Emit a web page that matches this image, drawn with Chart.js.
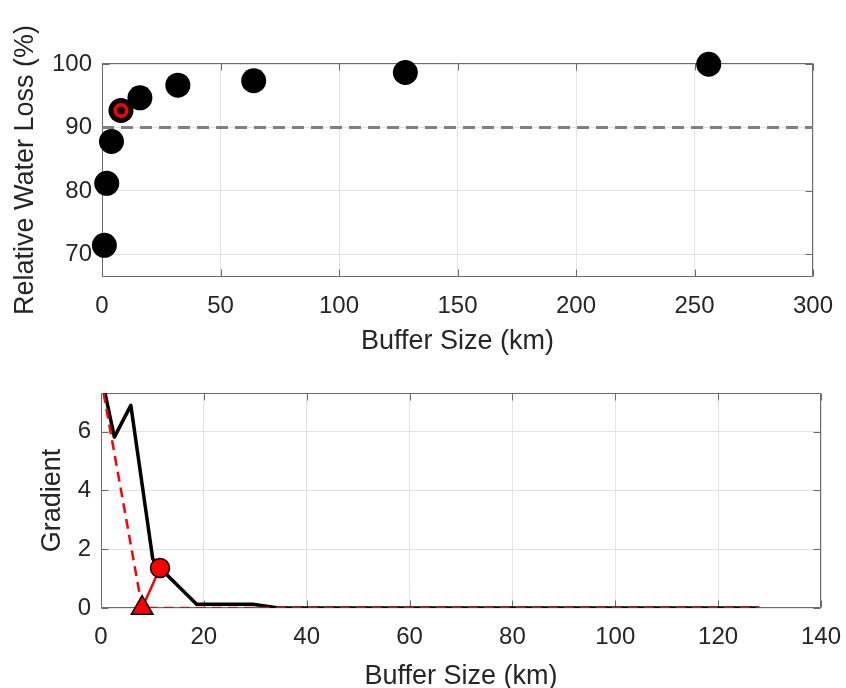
<!DOCTYPE html>
<html>
<head>
<meta charset="utf-8">
<script src="https://cdn.jsdelivr.net/npm/chart.js@4.4.1/dist/chart.umd.min.js"></script>
<style>
  html, body { margin:0; padding:0; background:#fff; width:846px; height:688px; overflow:hidden; }
  #c1 { position:absolute; left:0; top:0; }
  #c2 { position:absolute; left:0; top:362px; }
</style>
</head>
<body>
<canvas id="c1" width="846" height="362"></canvas>
<canvas id="c2" width="846" height="335"></canvas>
<script>
// ---- Top panel data ----
const bufferSizes = [1, 2, 4, 8, 16, 32, 64, 128, 256];
const waterLoss   = [71.4, 81.2, 87.8, 92.7, 94.7, 96.7, 97.4, 98.7, 100.0];
const selectedIndex = 3;
const threshold = 90;
const topXTicks = [0, 50, 100, 150, 200, 250, 300];
const topYTicks = [70, 80, 90, 100];

// ---- Bottom panel data ----
const gradX = [0.78, 2.6, 5.8, 10.05, 11.47, 18.6, 29.5, 34.5, 128];
const gradY = [7.31, 5.81, 6.89, 1.68, 1.36, 0.13, 0.13, 0, 0];
const tangentX = [0.5, 8, 128];
const tangentY = [7.31, 0, 0];
const triangleX = [8];
const triangleY = [0];
const circleX = [11.47];
const circleY = [1.36];
const botXTicks = [0, 20, 40, 60, 80, 100, 120, 140];
const botYTicks = [0, 2, 4, 6];

const FONT = '"Liberation Sans", Arial, Helvetica, sans-serif';
const TXT = '#262626';

function pts(xs, ys) { return xs.map((x, i) => ({x: x, y: ys[i]})); }

const boxPlugin = {
  id: 'matlabBox',
  beforeDatasetsDraw(chart) {
    const {ctx, chartArea: a, scales: {x, y}} = chart;
    ctx.save();
    ctx.strokeStyle = '#6b6b6b';
    ctx.lineWidth = 1;
    const L = Math.round(a.left) + 0.5, R = Math.round(a.right) - 0.5;
    const T = Math.round(a.top) + 0.5, B = Math.round(a.bottom) - 0.5;
    ctx.beginPath();
    ctx.rect(L, T, R - L, B - T);
    const tl = 7;
    x.ticks.forEach(t => {
      const px = Math.round(x.getPixelForValue(t.value)) + 0.5;
      ctx.moveTo(px, B); ctx.lineTo(px, B - tl);
      ctx.moveTo(px, T); ctx.lineTo(px, T + tl);
    });
    y.ticks.forEach(t => {
      const py = Math.round(y.getPixelForValue(t.value)) + 0.5;
      ctx.moveTo(L, py); ctx.lineTo(L + tl, py);
      ctx.moveTo(R, py); ctx.lineTo(R - tl, py);
    });
    ctx.stroke();
    ctx.restore();
  }
};

function axisOpts(o) {
  return {
    type: 'linear',
    min: o.min, max: o.max,
    afterBuildTicks: s => { s.ticks = o.ticks.map(v => ({value: v})); },
    afterFit: s => {
      if (o.width !== undefined) s.width = o.width;
      if (o.height !== undefined) s.height = o.height;
      s.paddingLeft = 0; s.paddingRight = 0; s.paddingTop = 0; s.paddingBottom = 0;
    },
    grid: { color: '#e3e3e3', lineWidth: 1, drawTicks: false },
    border: { display: false },
    ticks: { color: TXT, font: { family: FONT, size: 24 }, padding: o.tickPad },
    title: { display: true, text: o.title, color: TXT, font: { family: FONT, size: 27 }, padding: o.titlePad }
  };
}

const common = {
  responsive: false,
  animation: false,
  devicePixelRatio: 1,
  plugins: { legend: { display: false }, tooltip: { enabled: false } },
};

new Chart(document.getElementById('c1'), {
  type: 'scatter',
  data: {
    datasets: [
      {
        type: 'scatter',
        data: pts([bufferSizes[selectedIndex]], [waterLoss[selectedIndex]]),
        pointRadius: 5.8, pointBorderWidth: 3.5, pointBorderColor: '#ff0000', pointBackgroundColor: '#000000',
        clip: false
      },
      {
        type: 'scatter',
        data: pts(bufferSizes, waterLoss),
        pointRadius: 12.5, pointBorderWidth: 0, pointBackgroundColor: '#000000', pointBorderColor: '#000000',
        clip: false
      },
      {
        type: 'line',
        data: pts([topXTicks[0], topXTicks[topXTicks.length - 1]], [threshold, threshold]),
        borderColor: '#808080', borderWidth: 3, borderDash: [12, 7], pointRadius: 0, fill: false
      }
    ]
  },
  options: Object.assign({}, common, {
    layout: { padding: { left: 0, right: 33, top: 63, bottom: 0 } },
    scales: {
      x: axisOpts({ min: 0, max: 300, ticks: topXTicks, height: 85, tickPad: 15, title: 'Buffer Size (km)', titlePad: { top: 4, bottom: 4 } }),
      y: axisOpts({ min: 66.4, max: 100.2, ticks: topYTicks, width: 102, tickPad: 10, title: 'Relative Water Loss (%)', titlePad: { top: 9, bottom: 4 } })
    }
  }),
  plugins: [boxPlugin]
});

new Chart(document.getElementById('c2'), {
  type: 'line',
  data: {
    datasets: [
      {
        data: pts(circleX, circleY), showLine: false,
        pointRadius: 9.5, pointBorderWidth: 1.5, pointBorderColor: '#000000', pointBackgroundColor: '#ff0000',
        clip: false
      },
      {
        data: pts(triangleX, triangleY), showLine: false, pointStyle: 'triangle',
        pointRadius: 12.5, pointBorderWidth: 1.5, pointBorderColor: '#000000', pointBackgroundColor: '#ff0000',
        clip: false
      },
      {
        data: pts([triangleX[0], circleX[0]], [triangleY[0], circleY[0]]),
        borderColor: '#ff0000', borderWidth: 2.5, pointRadius: 0, fill: false
      },
      {
        data: pts(tangentX, tangentY),
        borderColor: '#ff0000', borderWidth: 2.5, borderDash: [10, 6], pointRadius: 0, fill: false
      },
      {
        data: pts(gradX, gradY),
        borderColor: '#000000', borderWidth: 3.5, pointRadius: 0, fill: false, tension: 0, borderJoinStyle: 'round'
      }
    ]
  },
  options: Object.assign({}, common, {
    layout: { padding: { left: 0, right: 25, top: 31, bottom: 0 } },
    scales: {
      x: axisOpts({ min: 0, max: 140, ticks: botXTicks, height: 89, tickPad: 15, title: 'Buffer Size (km)', titlePad: { top: 4, bottom: 4 } }),
      y: axisOpts({ min: 0, max: 7.31, ticks: botYTicks, width: 101, tickPad: 10, title: 'Gradient', titlePad: { top: 36, bottom: 4 } })
    }
  }),
  plugins: [boxPlugin]
});
</script>
</body>
</html>
